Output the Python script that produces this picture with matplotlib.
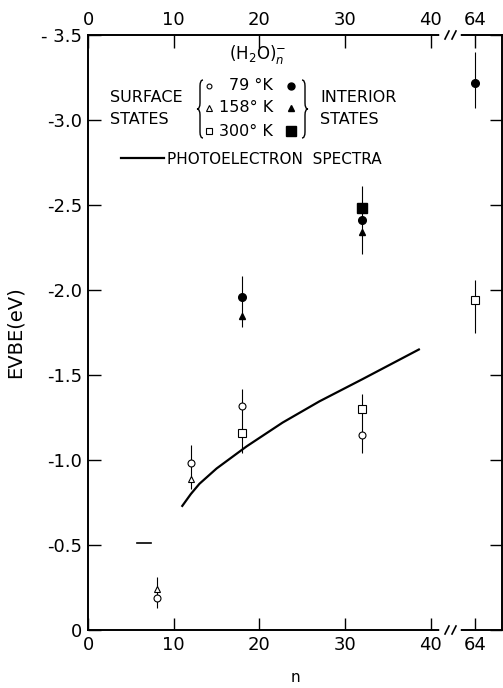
import matplotlib
matplotlib.use("Agg")
import matplotlib.pyplot as plt
import numpy as np
from matplotlib.lines import Line2D
from matplotlib.path import Path
from matplotlib.patches import PathPatch

# surface states (open markers)
surf_79_n = [8, 12, 18, 32]
surf_79_e = [-0.19, -0.98, -1.32, -1.15]
surf_158_n = [8, 12]
surf_158_e = [-0.24, -0.89]
surf_300_n = [18, 32, 64]
surf_300_e = [-1.16, -1.30, -1.94]

# interior states (filled markers)
int_79_n = [18, 32, 64]
int_79_e = [-1.96, -2.41, -3.22]
int_158_n = [18, 32]
int_158_e = [-1.85, -2.34]
int_300_n = [32]
int_300_e = [-2.48]

# error bars
bar_n = [8, 12, 18, 32, 64, 18, 32, 64]
bar_lo = [-0.13, -0.83, -1.04, -1.04, -1.75, -1.78, -2.21, -3.07]
bar_hi = [-0.31, -1.09, -1.42, -1.39, -2.06, -2.08, -2.61, -3.40]

# photoelectron spectra
pes_n = [11.0, 12, 13, 15, 18.5, 22.7, 27, 32, 38.6]
pes_e = [-0.73, -0.80, -0.86, -0.95, -1.08, -1.22, -1.345, -1.475, -1.65]
dash_n = [5.7, 7.4]
dash_e = [-0.51, -0.51]

xtick_n = [0, 10, 20, 30, 40, 64]
xtick_labels = ["0", "10", "20", "30", "40", "64"]
ytick_vals = [0, -0.5, -1.0, -1.5, -2.0, -2.5, -3.0, -3.5]
ytick_labels = ["0", "-0.5", "-1.0", "-1.5", "-2.0", "-2.5", "-3.0", "- 3.5"]

W, H = 503, 688


def fx(x):
    return x / W


def fy(y):
    return 1 - y / H


def xpos(n):
    # broken axis: n = 64 sits just past the break
    n = np.asarray(n, dtype=float)
    return np.where(n > 42, 45.2 + (n - 64) * 0.1, n)


def brace(fig, x, y0, y1, w, right=False):
    s = -1 if right else 1
    ym = (y0 + y1) / 2
    xm = x + s * w / 2
    xe = x + s * w
    pts = [(xe, y0), (xm, y0), (xm, y0 + w),
           (xm, ym - w), (xm, ym), (x, ym),
           (xm, ym), (xm, ym + w),
           (xm, y1 - w), (xm, y1), (xe, y1)]
    codes = [Path.MOVETO, Path.CURVE3, Path.CURVE3,
             Path.LINETO, Path.CURVE3, Path.CURVE3,
             Path.CURVE3, Path.CURVE3,
             Path.LINETO, Path.CURVE3, Path.CURVE3]
    verts = [(fx(a), fy(b)) for a, b in pts]
    fig.add_artist(PathPatch(Path(verts, codes), fill=False, lw=1.0,
                             transform=fig.transFigure))


fig = plt.figure(figsize=(5.03, 6.88), dpi=100)
ax = fig.add_axes([fx(88), fy(630), fx(502) - fx(88), fy(35) - fy(630)])

# error bars
ax.vlines(xpos(bar_n), bar_lo, bar_hi, color="black", lw=0.8)

# photoelectron curve
ax.plot(pes_n, pes_e, color="black", lw=1.6)
ax.plot(dash_n, dash_e, color="black", lw=1.2)

open_kw = dict(ls="none", mfc="white", mec="black", mew=0.8)
ax.plot(xpos(surf_79_n), surf_79_e, marker="o", ms=5, **open_kw)
ax.plot(xpos(surf_158_n), surf_158_e, marker="^", ms=4.5, **open_kw)
ax.plot(xpos(surf_300_n), surf_300_e, marker="s", ms=6, **open_kw)

fill_kw = dict(ls="none", color="black")
ax.plot(xpos(int_79_n), int_79_e, marker="o", ms=5.5, **fill_kw)
ax.plot(xpos(int_158_n), int_158_e, marker="^", ms=5, **fill_kw)
ax.plot(xpos(int_300_n), int_300_e, marker="s", ms=6.5, **fill_kw)

ax.set_xlim(0, 48.3)
ax.set_ylim(0, -3.5)
ax.set_xticks(xpos(xtick_n))
ax.set_xticklabels(xtick_labels)
ax.set_yticks(ytick_vals)
ax.set_yticklabels(ytick_labels)
ax.tick_params(direction="in", length=9, width=1.0, labelsize=13,
               top=True, labeltop=True, right=True, labelright=False, pad=4)
for sp in ax.spines.values():
    sp.set_linewidth(1.4)

ax.set_ylabel("EVBE(eV)", fontsize=14, labelpad=12)
ax.set_xlabel("n", fontsize=11, labelpad=12)

# axis break marks
for yb in (35, 630):
    fig.add_artist(Line2D([fx(442), fx(458)], [fy(yb), fy(yb)], color="white",
                          lw=4, transform=fig.transFigure))
    for xb in (445, 452):
        fig.add_artist(Line2D([fx(xb), fx(xb + 4)], [fy(yb + 4), fy(yb - 4)],
                              color="black", lw=1.2, transform=fig.transFigure))

# legend
fig.text(fx(258), fy(55), r"$(\mathrm{H_2O})_n^{-}$", fontsize=12,
         ha="center", va="center")
fig.text(fx(110), fy(97), "SURFACE", fontsize=11.5, va="center")
fig.text(fx(110), fy(120), "STATES", fontsize=11.5, va="center")
fig.text(fx(320), fy(97), "INTERIOR", fontsize=11.5, va="center")
fig.text(fx(320), fy(120), "STATES", fontsize=11.5, va="center")
brace(fig, 197, 80, 138, 6)
brace(fig, 308, 80, 138, 6, right=True)

temps = ["79 °K", "158° K", "300° K"]
rows = [86, 108, 131]
open_m = [("o", 3.5), ("^", 4), ("s", 4.5)]
fill_m = [("o", 5), ("^", 5), ("s", 6.5)]
for t, yr, om, fm in zip(temps, rows, open_m, fill_m):
    fig.text(fx(273), fy(yr), t, fontsize=11.5, ha="right", va="center")
    fig.add_artist(Line2D([fx(209)], [fy(yr)], marker=om[0], ms=om[1],
                          mfc="white", mec="black", mew=0.8, ls="none",
                          transform=fig.transFigure))
    fig.add_artist(Line2D([fx(291)], [fy(yr)], marker=fm[0], ms=fm[1],
                          color="black", ls="none", transform=fig.transFigure))

fig.add_artist(Line2D([fx(121), fx(164)], [fy(158), fy(158)], color="black",
                      lw=1.6, transform=fig.transFigure))
fig.text(fx(167), fy(159), "PHOTOELECTRON  SPECTRA", fontsize=11, va="center")

fig.savefig("out.png", dpi=100)
